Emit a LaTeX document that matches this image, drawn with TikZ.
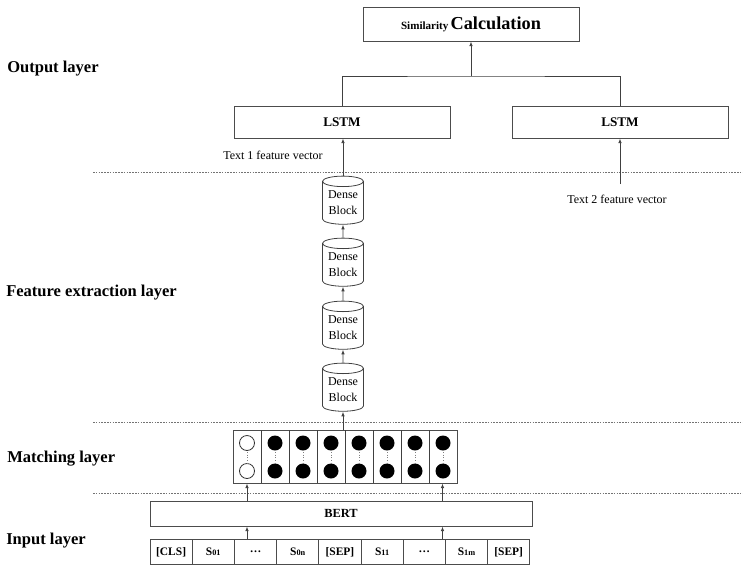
\documentclass[tikz,border=0pt]{standalone}
\usepackage{fontspec}
\setmainfont{Liberation Serif}
\usetikzlibrary{shapes.geometric,arrows.meta}
\tikzset{
 box/.style={draw=black!70, line width=0.6pt, inner sep=0pt, fill=white},
 arr/.style={-{Latex[length=3.5pt,width=2.6pt]}, line width=0.6pt, draw=black!75},
 ln/.style={line width=0.6pt, draw=black!75},
 sepline/.style={draw=black!55, line width=0.6pt, dash pattern=on 1.2pt off 0.9pt},
 lay/.style={anchor=west, font=\fontsize{12.4}{14}\selectfont\bfseries, inner sep=0pt},
 tok/.style={box, minimum width=42.2*0.75pt, minimum height=25*0.75pt, font=\fontsize{8.6}{10}\selectfont\bfseries},
 dense/.style={draw=black!75, line width=0.6pt, cylinder, shape border rotate=90, aspect=0.35, minimum width=41*0.75pt, minimum height=47*0.75pt, inner sep=0pt, font=\fontsize{9}{12}\selectfont},
 lstmbox/.style={box, minimum width=216*0.75pt, minimum height=32*0.75pt, font=\fontsize{9.9}{12}\selectfont\bfseries},
 small/.style={font=\fontsize{9}{11}\selectfont, inner sep=0pt},
}
\newcommand\denselabel{\raisebox{-2pt}{\begin{tabular}{@{}c@{}}Dense\\Block\end{tabular}}}
\begin{document}
\begin{tikzpicture}[x=0.75pt,y=-0.75pt]
\useasboundingbox (0,0) rectangle (743,565);

% layer separators
\coordinate (s1a) at (93,172); \coordinate (s1b) at (743,172);
\coordinate (s2a) at (93,422); \coordinate (s2b) at (743,422);
\coordinate (s3a) at (93,493); \coordinate (s3b) at (743,493);
\draw[sepline] (s1a) -- (s1b);
\draw[sepline] (s2a) -- (s2b);
\draw[sepline] (s3a) -- (s3b);

% layer labels
\node[lay] (lo) at (7,69) {Output layer};
\node[lay] (lf) at (6,293) {Feature extraction layer};
\node[lay] (lm) at (7,459) {Matching layer};
\node[lay] (li) at (6,541) {Input layer};

% output layer
\node[box, minimum width=216*0.75pt, minimum height=34*0.75pt] (sim) at (471,24)
  {{\fontsize{8.3}{10}\selectfont\bfseries Similarity}\,{\fontsize{13.7}{15}\selectfont\bfseries Calculation}};
\node[lstmbox] (lstm1) at (342,122) {LSTM};
\node[lstmbox] (lstm2) at (620,122) {LSTM};
\coordinate (j) at (471,76);
\draw[ln] (lstm1.north) |- (j) -| (lstm2.north);
\draw[arr] (j) -- (sim.south);

\node[small] (t1) at (273,155) {Text 1 feature vector};
\node[small] (t2) at (617,199) {Text 2 feature vector};
\coordinate (t2s) at (620,184);
\draw[arr] (t2s) -- (t2s |- lstm2.south);

% dense blocks
\node[dense] (d1) at (343,203) {\denselabel};
\node[dense] (d2) at (343,265) {\denselabel};
\node[dense] (d3) at (343,328) {\denselabel};
\node[dense] (d4) at (343,390) {\denselabel};
\draw[arr] (d1.north) -- (d1.north |- lstm1.south);
\draw[arr] (d2.north) -- (d1.south);
\draw[arr] (d3.north) -- (d2.south);
\draw[arr] (d4.north) -- (d3.south);

% matching matrix
\node[box, minimum width=224*0.75pt, minimum height=53*0.75pt] (mat) at (345,456.5) {};
\foreach \k in {1,...,7} {\draw[ln] (233+28*\k,430) -- (233+28*\k,483);}
\draw[line width=0.6pt, draw=black!80] (247,443) circle[radius=7.5];
\draw[line width=0.6pt, draw=black!80] (247,471) circle[radius=7.5];
\foreach \k in {1,...,7} {
  \fill (247+28*\k,443) circle[radius=7.5];
  \fill (247+28*\k,471) circle[radius=7.5];
}
\foreach \k in {0,...,7} {\draw[black!50, line width=0.6pt, dash pattern=on 0.8pt off 1.2pt] (247+28*\k,452) -- (247+28*\k,463);}
\draw[arr] (d4.south |- mat.north) -- (d4.south);

% BERT and tokens
\node[box, minimum width=382*0.75pt, minimum height=25*0.75pt, font=\fontsize{9.3}{11}\selectfont\bfseries] (bert) at (341,513.5) {BERT};
\node[tok] (k1) at (171.1,552) {[CLS]};
\node[tok] (k2) at (213.3,552) {S{\fontsize{6.2}{7}\selectfont 01}};
\node[tok] (k3) at (255.5,552) {\dots};
\node[tok] (k4) at (297.7,552) {S{\fontsize{6.2}{7}\selectfont 0n}};
\node[tok] (k5) at (339.9,552) {[SEP]};
\node[tok] (k6) at (382.1,552) {S{\fontsize{6.2}{7}\selectfont 11}};
\node[tok] (k7) at (424.3,552) {\dots};
\node[tok] (k8) at (466.5,552) {S{\fontsize{6.2}{7}\selectfont 1m}};
\node[tok] (k9) at (508.7,552) {[SEP]};

\coordinate (xa) at (247,0);
\coordinate (xb) at (442.5,0);
\draw[arr] (k3.north -| xa) -- (bert.south -| xa);
\draw[arr] (k7.north -| xb) -- (bert.south -| xb);
\draw[arr] (bert.north -| xa) -- (mat.south -| xa);
\draw[arr] (bert.north -| xb) -- (mat.south -| xb);
\end{tikzpicture}
\end{document}
